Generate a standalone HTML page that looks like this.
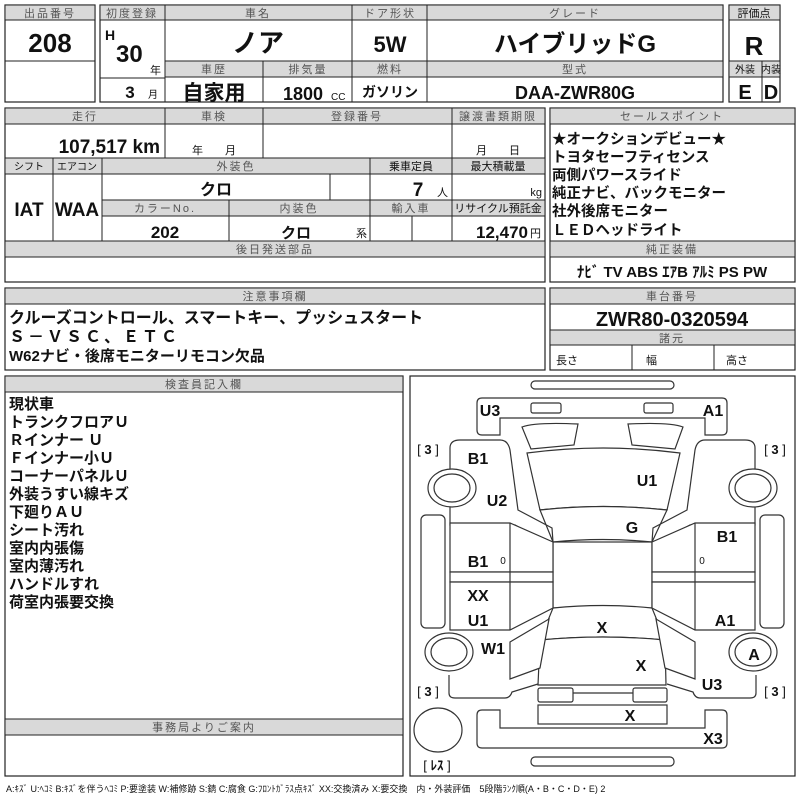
<!DOCTYPE html>
<html><head><meta charset="utf-8"><style>
html,body{margin:0;padding:0;background:#fff;}
svg{display:block;}
text{font-family:"Liberation Sans","Noto Sans CJK JP",sans-serif;fill:#111;}
.h{font-size:11px;fill:#555;text-anchor:middle;letter-spacing:2px;}
.b{font-weight:bold;}
.c{text-anchor:middle;}
.r{text-anchor:end;}
.g{fill:#d9d9d9;stroke:#222;stroke-width:1;}
.k{fill:none;stroke:#222;stroke-width:1.2;}
.d{fill:#fff;stroke:#333;stroke-width:1.2;}
</style></head><body>
<svg width="800" height="800" viewBox="0 0 800 800" xmlns="http://www.w3.org/2000/svg">
<rect x="5" y="5" width="90" height="97" class="k"/>
<rect x="5" y="5" width="90" height="15" class="g"/>
<text x="50" y="17" class="h">出品番号</text>
<line x1="5" y1="61" x2="95" y2="61" stroke="#222"/>
<text x="50" y="52" class="c b" font-size="26">208</text>

<rect x="100" y="5" width="623" height="97" class="k"/>
<rect x="100" y="5" width="623" height="15" class="g"/>
<rect x="165" y="61" width="558" height="16" class="g"/>
<line x1="165" y1="5" x2="165" y2="102" stroke="#222"/>
<line x1="352" y1="5" x2="352" y2="102" stroke="#222"/>
<line x1="427" y1="5" x2="427" y2="102" stroke="#222"/>
<line x1="263" y1="61" x2="263" y2="102" stroke="#222"/>
<line x1="100" y1="78" x2="165" y2="78" stroke="#222"/>
<text x="132" y="17" class="h" letter-spacing="0">初度登録</text>
<text x="258" y="17" class="h">車名</text>
<text x="390" y="17" class="h">ドア形状</text>
<text x="575" y="17" class="h">グレード</text>
<text x="214" y="73" class="h">車歴</text>
<text x="308" y="73" class="h">排気量</text>
<text x="390" y="73" class="h">燃料</text>
<text x="575" y="73" class="h">型式</text>
<text x="105" y="40" class="b" font-size="14">H</text>
<text x="116" y="62" class="b" font-size="24">30</text>
<text x="150" y="74" font-size="11">年</text>
<text x="130" y="98" class="c b" font-size="17">3</text>
<text x="148" y="98" font-size="10">月</text>
<text x="258" y="52" class="c b" font-size="26">ノア</text>
<text x="390" y="52" class="c b" font-size="22">5W</text>
<text x="575" y="52" class="c b" font-size="24">ハイブリッドG</text>
<text x="214" y="100" class="c b" font-size="21">自家用</text>
<text x="303" y="100" class="c b" font-size="18">1800</text>
<text x="331" y="100" font-size="10">CC</text>
<text x="390" y="97" class="c b" font-size="14">ガソリン</text>
<text x="575" y="99" class="c b" font-size="18">DAA-ZWR80G</text>

<rect x="729" y="5" width="51" height="97" class="k"/>
<rect x="729" y="5" width="51" height="15" class="g"/>
<rect x="729" y="61" width="51" height="16" class="g"/>
<line x1="762" y1="61" x2="762" y2="102" stroke="#222"/>
<text x="754" y="17" class="c" font-size="11" fill="#555">評価点</text>
<text x="754" y="55" class="c b" font-size="26">R</text>
<text x="745" y="73" class="c" font-size="10" fill="#555">外装</text>
<text x="771" y="73" class="c" font-size="10" fill="#555">内装</text>
<text x="745" y="99" class="c b" font-size="20">E</text>
<text x="771" y="99" class="c b" font-size="20">D</text>

<rect x="5" y="108" width="540" height="174" class="k"/>
<rect x="5" y="108" width="540" height="16" class="g"/>
<rect x="5" y="158" width="540" height="16" class="g"/>
<rect x="102" y="200" width="443" height="16" class="g"/>
<rect x="5" y="241" width="540" height="16" class="g"/>
<line x1="165" y1="108" x2="165" y2="158" stroke="#222"/>
<line x1="263" y1="108" x2="263" y2="158" stroke="#222"/>
<line x1="452" y1="108" x2="452" y2="241" stroke="#222"/>
<line x1="53" y1="158" x2="53" y2="241" stroke="#222"/>
<line x1="102" y1="158" x2="102" y2="241" stroke="#222"/>
<line x1="370" y1="158" x2="370" y2="241" stroke="#222"/>
<line x1="330" y1="174" x2="330" y2="200" stroke="#222"/>
<line x1="229" y1="200" x2="229" y2="241" stroke="#222"/>
<line x1="412" y1="216" x2="412" y2="241" stroke="#222"/>
<text x="85" y="120" class="h">走行</text>
<text x="214" y="120" class="h">車検</text>
<text x="357" y="120" class="h">登録番号</text>
<text x="498" y="120" class="h" letter-spacing="0">譲渡書類期限</text>
<text x="160" y="153" class="r b" font-size="19">107,517 km</text>
<text x="214" y="154" class="c" font-size="11">年　　月</text>
<text x="498" y="154" class="c" font-size="11">月　　日</text>
<text x="29" y="170" class="c" font-size="10" fill="#555">シフト</text>
<text x="77" y="170" class="c" font-size="10" fill="#555">エアコン</text>
<text x="236" y="170" class="h">外装色</text>
<text x="411" y="170" class="c" font-size="11" fill="#555">乗車定員</text>
<text x="498" y="170" class="c" font-size="11" fill="#555">最大積載量</text>
<text x="29" y="216" class="c b" font-size="19">IAT</text>
<text x="77" y="216" class="c b" font-size="19">WAA</text>
<text x="216" y="195" class="c b" font-size="16">クロ</text>
<text x="418" y="196" class="c b" font-size="19">7</text>
<text x="437" y="196" font-size="11">人</text>
<text x="542" y="196" class="r" font-size="11">kg</text>
<text x="165" y="212" class="h" letter-spacing="4">カラーNo.</text>
<text x="299" y="212" class="h">内装色</text>
<text x="411" y="212" class="h">輸入車</text>
<text x="498" y="212" class="c" font-size="11" fill="#555">リサイクル預託金</text>
<text x="165" y="238" class="c b" font-size="17">202</text>
<text x="296" y="238" class="c b" font-size="15">クロ</text>
<text x="356" y="237" font-size="11">系</text>
<text x="528" y="238" class="r b" font-size="17">12,470</text>
<text x="530" y="237" font-size="11">円</text>
<text x="275" y="253" class="h" letter-spacing="4">後日発送部品</text>

<rect x="550" y="108" width="245" height="174" class="k"/>
<rect x="550" y="108" width="245" height="16" class="g"/>
<rect x="550" y="241" width="245" height="16" class="g"/>
<text x="672" y="120" class="h" letter-spacing="6">セールスポイント</text>
<g class="b" font-size="14.5">
<text x="552" y="144">★オークションデビュー★</text>
<text x="552" y="162">トヨタセーフティセンス</text>
<text x="552" y="180">両側パワースライド</text>
<text x="552" y="198">純正ナビ、バックモニター</text>
<text x="552" y="216">社外後席モニター</text>
<text x="552" y="235">ＬＥＤヘッドライト</text>
</g>
<text x="672" y="253" class="h" letter-spacing="5">純正装備</text>
<text x="672" y="277" class="c b" font-size="15">ﾅﾋﾞ  TV  ABS  ｴｱB  ｱﾙﾐ  PS  PW</text>

<rect x="5" y="288" width="540" height="82" class="k"/>
<rect x="5" y="288" width="540" height="16" class="g"/>
<text x="275" y="300" class="h" letter-spacing="4">注意事項欄</text>
<g class="b" font-size="16">
<text x="9" y="323">クルーズコントロール、スマートキー、プッシュスタート</text>
<text x="9" y="342" letter-spacing="3">Ｓ－ＶＳＣ、ＥＴＣ</text>
<text x="9" y="361" font-size="15">W62ナビ・後席モニターリモコン欠品</text>
</g>

<rect x="550" y="288" width="245" height="82" class="k"/>
<rect x="550" y="288" width="245" height="16" class="g"/>
<rect x="550" y="330" width="245" height="15" class="g"/>
<line x1="632" y1="345" x2="632" y2="370" stroke="#222"/>
<line x1="714" y1="345" x2="714" y2="370" stroke="#222"/>
<text x="672" y="300" class="h">車台番号</text>
<text x="672" y="326" class="c b" font-size="20">ZWR80-0320594</text>
<text x="672" y="342" class="h">諸元</text>
<text x="556" y="364" font-size="11">長さ</text>
<text x="646" y="364" font-size="11">幅</text>
<text x="726" y="364" font-size="11">高さ</text>

<rect x="5" y="376" width="398" height="400" class="k"/>
<rect x="5" y="376" width="398" height="16" class="g"/>
<rect x="5" y="719" width="398" height="16" class="g"/>
<text x="204" y="388" class="h" letter-spacing="5">検査員記入欄</text>
<text x="204" y="731" class="h" letter-spacing="6">事務局よりご案内</text>
<g class="b" font-size="15">
<text x="9" y="409">現状車</text>
<text x="9" y="427">トランクフロアＵ</text>
<text x="9" y="445">Ｒインナー Ｕ</text>
<text x="9" y="463">Ｆインナー小Ｕ</text>
<text x="9" y="481">コーナーパネルＵ</text>
<text x="9" y="499">外装うすい線キズ</text>
<text x="9" y="517">下廻りＡＵ</text>
<text x="9" y="535">シート汚れ</text>
<text x="9" y="553">室内内張傷</text>
<text x="9" y="571">室内薄汚れ</text>
<text x="9" y="589">ハンドルすれ</text>
<text x="9" y="607">荷室内張要交換</text>
</g>

<rect x="410" y="376" width="385" height="400" class="k"/>
<g class="d">
<rect x="531" y="381" width="143" height="8" rx="4"/>
<rect x="531" y="757" width="143" height="9" rx="4"/>
<path d="M482,398 H722 Q727,398 727,403 V430 Q727,435 722,435 H705 V418 H500 V435 H482 Q477,435 477,430 V403 Q477,398 482,398 Z"/>
<rect x="531" y="403" width="30" height="10" rx="2"/>
<rect x="644" y="403" width="29" height="10" rx="2"/>
<path d="M482,748 H722 Q727,748 727,743 V715 Q727,710 722,710 H705 V728 H500 V710 H482 Q477,710 477,715 V743 Q477,748 482,748 Z"/>
<path d="M522,427 Q535,422 578,424 L574,445 L531,449 Z"/>
<path d="M683,427 Q670,422 628,424 L632,445 L675,449 Z"/>
<path d="M527,453 Q603,443 680,453 L667,510 Q603,503 540,510 Z"/>
<path d="M540,510 Q603,503 667,510 L652,542 Q603,537 553,542 Z"/>
<rect x="553" y="542" width="99" height="66"/>
<path d="M553,608 Q603,603 652,608 L665,640 Q603,634 540,640 Z"/>
<path d="M540,640 Q603,634 665,640 L666,685 L538,685 Z"/>
<rect x="538" y="688" width="35" height="14" rx="2"/>
<rect x="633" y="688" width="34" height="14" rx="2"/>
<line x1="573" y1="693" x2="633" y2="693"/>
<rect x="538" y="705" width="129" height="19"/>
<path d="M450,472 V448 Q450,440 460,440 H500 Q508,440 510,450 L518,510 L552,528 L553,542 L545,542 L515,525 H450 Z" fill="none"/>
<path d="M755,472 V448 Q755,440 745,440 H705 Q697,440 695,450 L687,510 L653,528 L652,542 L660,542 L690,525 H755 Z" fill="none"/>
<path d="M450,523 H510 L553,542 V572 H450 Z"/>
<rect x="450" y="572" width="103" height="10"/>
<path d="M450,582 H553 V608 L510,630 H450 Z"/>
<line x1="510" y1="523" x2="510" y2="630"/>
<path d="M755,523 H695 L652,542 V572 H755 Z"/>
<rect x="652" y="572" width="103" height="10"/>
<path d="M755,582 H652 V608 L695,630 H755 Z"/>
<line x1="695" y1="523" x2="695" y2="630"/>
<rect x="421" y="515" width="24" height="113" rx="5"/>
<rect x="760" y="515" width="24" height="113" rx="5"/>
<path d="M449,675 V693 Q449,698 455,698 H505 Q510,698 512,692 L538,684" fill="none"/>
<path d="M510,642 L549,619 L540,668 L510,679 Z"/>
<path d="M756,675 V693 Q756,698 750,698 H700 Q695,698 693,692 L667,684" fill="none"/>
<path d="M695,642 L656,619 L665,668 L695,679 Z"/>
<ellipse cx="452" cy="488" rx="24" ry="19"/>
<ellipse cx="452" cy="488" rx="18" ry="14"/>
<ellipse cx="753" cy="488" rx="24" ry="19"/>
<ellipse cx="753" cy="488" rx="18" ry="14"/>
<ellipse cx="449" cy="652" rx="24" ry="19"/>
<ellipse cx="449" cy="652" rx="18" ry="14"/>
<ellipse cx="753" cy="652" rx="24" ry="19"/>
<ellipse cx="753" cy="652" rx="18" ry="14"/>
<ellipse cx="438" cy="730" rx="24" ry="22"/>
</g>
<g class="b" font-size="16">
<text x="490" y="416" class="c">U3</text>
<text x="713" y="416" class="c">A1</text>
<text x="478" y="464" class="c">B1</text>
<text x="647" y="486" class="c">U1</text>
<text x="497" y="506" class="c">U2</text>
<text x="632" y="533" class="c">G</text>
<text x="727" y="542" class="c">B1</text>
<text x="478" y="567" class="c">B1</text>
<text x="478" y="601" class="c">XX</text>
<text x="478" y="626" class="c">U1</text>
<text x="725" y="626" class="c">A1</text>
<text x="602" y="633" class="c">X</text>
<text x="493" y="654" class="c">W1</text>
<text x="754" y="660" class="c">A</text>
<text x="641" y="671" class="c">X</text>
<text x="712" y="690" class="c">U3</text>
<text x="630" y="721" class="c">X</text>
<text x="713" y="744" class="c">X3</text>
</g>
<g font-size="13">
<text x="503" y="564" class="c" font-size="10">0</text>
<text x="702" y="564" class="c" font-size="10">0</text>
<text x="428" y="454" class="c">[ <tspan font-weight="bold">3</tspan> ]</text>
<text x="775" y="454" class="c">[ <tspan font-weight="bold">3</tspan> ]</text>
<text x="428" y="696" class="c">[ <tspan font-weight="bold">3</tspan> ]</text>
<text x="775" y="696" class="c">[ <tspan font-weight="bold">3</tspan> ]</text>
<text x="437" y="770" class="c">[ <tspan font-weight="bold">ﾚｽ</tspan> ]</text>
</g>
<text x="6" y="792" font-size="9" fill="#333">A:ｷｽﾞ U:ﾍｺﾐ B:ｷｽﾞを伴うﾍｺﾐ P:要塗装 W:補修跡 S:錆 C:腐食 G:ﾌﾛﾝﾄｶﾞﾗｽ点ｷｽﾞ XX:交換済み X:要交換　内・外装評価　5段階ﾗﾝｸ順(A・B・C・D・E) 2</text>
</svg>
</body></html>
